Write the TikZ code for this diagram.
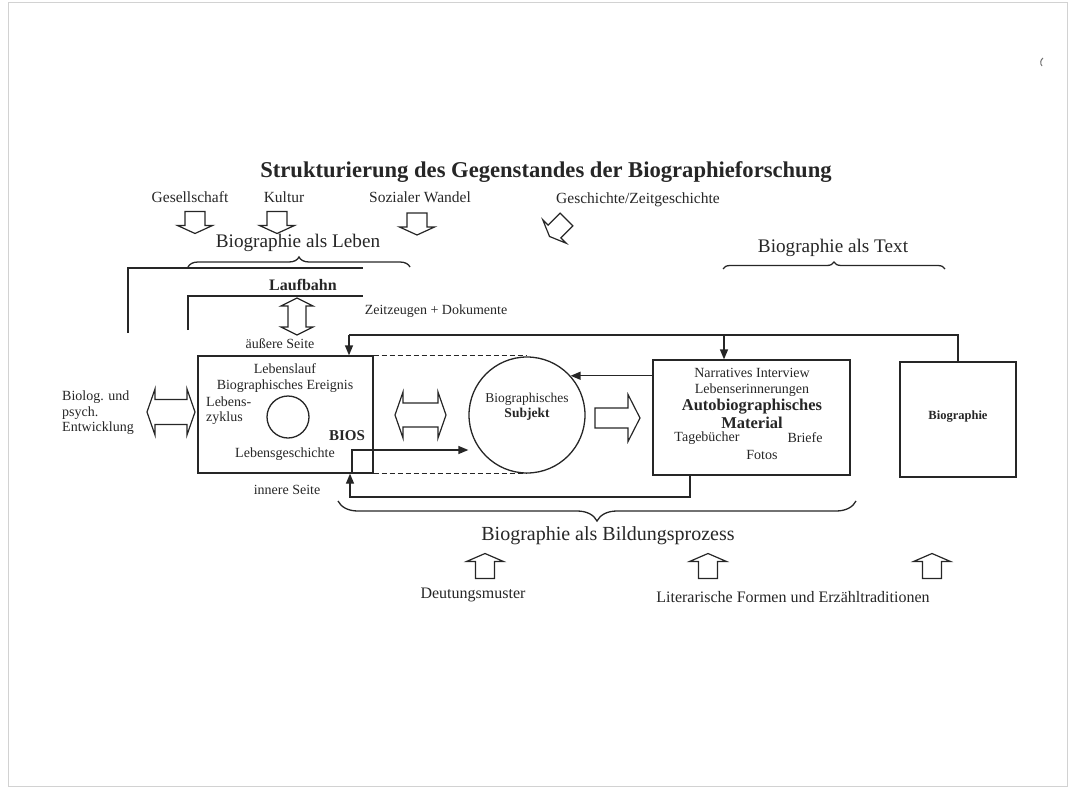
\documentclass[tikz,border=0pt]{standalone}
\usepackage{fontspec}
\setmainfont{Liberation Serif}
\usetikzlibrary{arrows.meta,decorations.pathreplacing,calc}
\tikzset{
 pics/sarrow/.style n args={4}{code={\draw[ln,line width=1.2pt,line join=miter] (-#1,-#2) -- ({#1-#4},-#2) -- ({#1-#4},-#3) -- (#1,0) -- ({#1-#4},#3) -- ({#1-#4},#2) -- (-#1,#2) -- cycle;}},
 pics/darrow/.style n args={4}{code={\draw[ln,line width=1.2pt,line join=miter] (-#1,0) -- ({-#1+#4},-#3) -- ({-#1+#4},-#2) -- ({#1-#4},-#2) -- ({#1-#4},-#3) -- (#1,0) -- ({#1-#4},#3) -- ({#1-#4},#2) -- ({-#1+#4},#2) -- ({-#1+#4},#3) -- cycle;}},
}
\begin{document}
\begin{tikzpicture}[x=1pt,y=-1pt,
 ln/.style={draw=black!85,line width=1.3pt},
 conn/.style={ln,-{Triangle[length=10pt,width=8pt]}},
 dashln/.style={ln,dash pattern=on 5pt off 3pt},
 txt/.style={inner sep=0pt,text=black!85},
 ttl/.style={txt,font=\fontsize{22.6}{25}\selectfont\bfseries},
 big/.style={txt,font=\fontsize{19.2}{21}\selectfont},
 lbl/.style={txt,font=\fontsize{15.5}{17}\selectfont},
 blbl/.style={txt,font=\fontsize{16}{18}\selectfont},
 small/.style={txt,font=\fontsize{14}{15.5}\selectfont},
 boxnode/.style={ln,rectangle,inner sep=0pt},
 brc/.style={ln,decorate,decoration={brace,amplitude=#1}},
]
\useasboundingbox (0,0) rectangle (1073,792);
\draw[gray!35,line width=1pt] (8,3) rectangle (1067,786);
\draw[black!55,line width=1pt] (1043,58) to[bend right=50] (1042,66);

% title and top labels
\node[ttl] (title) at (546,172) {Strukturierung des Gegenstandes der Biographieforschung};
\node[lbl] (gs) at (190,197) {Gesellschaft};
\node[lbl] (ku) at (284,197) {Kultur};
\node[lbl] (sw) at (420,197) {Sozialer Wandel};
\node[lbl] (gz) at (638,200) {Geschichte/Zeitgeschichte};
\pic[rotate=-90] at (195,222.5) {sarrow={11}{10}{17.5}{8}};
\pic[rotate=-90] at (277,222.5) {sarrow={11}{10}{17.5}{8}};
\pic[rotate=-90] at (417,224) {sarrow={11}{10}{17.5}{8}};
\pic[rotate=-135] at (558,228) {sarrow={12}{9}{16.5}{7}};

% Biographie als Leben
\node[big] (leben) at (298,243) {Biographie als Leben};
\draw[brc=10pt] (188,267) -- (410,267);
\coordinate (o1) at (128,333);
\coordinate (o2) at (128,268);
\coordinate (o3) at (363,268);
\draw[ln] (o1) -- (o2) -- (o3);
\coordinate (i1) at (188,330);
\coordinate (i2) at (188,296);
\coordinate (i3) at (363,296);
\draw[ln] (i1) -- (i2) -- (i3);
\node[txt,font=\fontsize{16}{18}\selectfont\bfseries] (lauf) at (303,285) {Laufbahn};
\pic[rotate=90] at (297,316.5) {darrow={18.5}{9}{16}{8}};
\node[small] (aussen) at (280,344) {äußere Seite};
\node[small] (zeit) at (436,311) {Zeitzeugen + Dokumente};

% Biographie als Text
\node[big] (text) at (833,248) {Biographie als Text};
\draw[brc=7pt] (723,269) -- (945,269);

% BIOS box
\node[boxnode,minimum width=175,minimum height=117] (bios) at (285.5,414.5) {};
\node[small] (lauf2) at (285,369) {Lebenslauf};
\node[small] (ereig) at (285,386) {Biographisches Ereignis};
\node[small,anchor=west,align=left] (zyklus) at (206,410.5) {Lebens-\\zyklus};
\node[ln,circle,minimum size=42,inner sep=0pt] (zyk) at (288,417) {};
\node[txt,font=\fontsize{15}{17}\selectfont\bfseries] (biosl) at (347,436) {BIOS};
\node[small] (lgesch) at (285,454) {Lebensgeschichte};
\node[small] (innen) at (287,490) {innere Seite};

% left
\node[small,anchor=west,align=left] (entw) at (62,413) {Biolog. und\\psych.\\Entwicklung};
\pic at (171,412) {darrow={24}{12.5}{23}{8}};

% subject circle
\node[ln,circle,minimum size=116,inner sep=0pt] (subj) at (527,415) {};
\node[txt,font=\fontsize{13.5}{15}\selectfont,align=center] (subjt) at (527,407) {Biographisches\\\textbf{Subjekt}};
\draw[dashln] (bios.north east) -- (bios.north east -| subj.north);
\draw[dashln] (bios.south east) -- (bios.south east -| subj.south);
\pic at (420.5,415) {darrow={25.5}{12}{23}{8}};
\pic at (617.5,418) {sarrow={22.5}{10}{23.5}{12}};

% autobiographical material
\node[boxnode,minimum width=197,minimum height=115] (auto) at (751.5,417.5) {};
\node[small] (narr) at (752,373) {Narratives Interview};
\node[small] (leri) at (752,390) {Lebenserinnerungen};
\node[txt,font=\fontsize{16.5}{18}\selectfont\bfseries,align=center] (autom) at (752,414) {Autobiographisches\\Material};
\node[small] (tage) at (707,438) {Tagebücher};
\node[small] (brief) at (805,438) {Briefe};
\node[small] (fotos) at (762,455) {Fotos};

% Biographie box
\node[boxnode,minimum width=116,minimum height=115] (bio) at (958,419.5) {};
\node[txt,font=\fontsize{12.5}{14}\selectfont\bfseries] (biot) at (958,417) {Biographie};

% connectors
\coordinate (t1) at (958,335);
\coordinate (t2) at (349,335);
\coordinate (t3) at (724,335);
\draw[ln] (bio.north) -- (t1) -- (t2);
\draw[conn] (t2) -- (t2 |- bios.north);
\draw[conn] (t3) -- (t3 |- auto.north);
\draw[conn] (auto.west |- subj.42) -- (subj.42);
\coordinate (r1) at (690,497);
\coordinate (r2) at (350,497);
\draw[conn] (r1 |- auto.south) -- (r1) -- (r2) -- (r2 |- bios.south);
\coordinate (l1) at (352,450);
\draw[conn] (l1 |- bios.south) -- (l1) -- (l1 -| subj.west);

% Bildungsprozess
\draw[brc=20pt] (856,501) -- (338,501);
\node[txt,font=\fontsize{20}{22}\selectfont] (bild) at (608,536) {Biographie als Bildungsprozess};
\pic[rotate=90] at (485,566) {sarrow={12.5}{9.5}{18.5}{8}};
\pic[rotate=90] at (708,566) {sarrow={12.5}{9.5}{18.5}{8}};
\pic[rotate=90] at (932,566) {sarrow={12.5}{9.5}{18.5}{8}};
\node[blbl] (deut) at (473,595) {Deutungsmuster};
\node[blbl] (lit) at (793,597) {Literarische Formen und Erzähltraditionen};
\end{tikzpicture}
\end{document}
